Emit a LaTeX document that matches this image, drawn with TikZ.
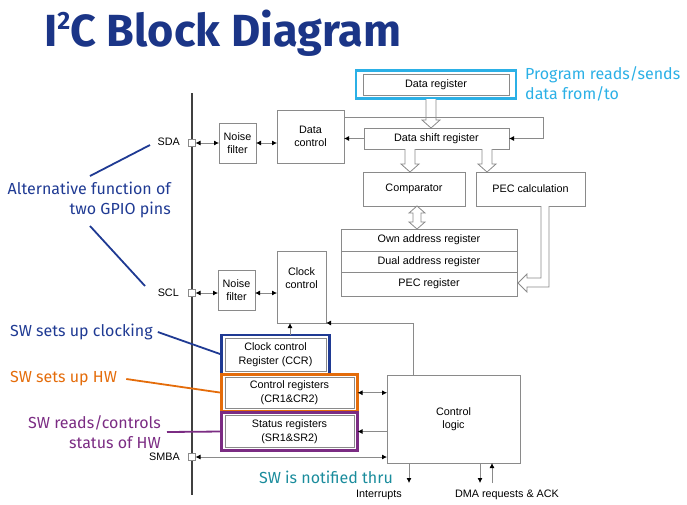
\documentclass[tikz,border=0pt]{standalone}
\usepackage{fontspec}
\setmainfont{Liberation Sans}
\newfontfamily\annfont{Fira Sans}
\usetikzlibrary{arrows.meta,fit,calc}
\definecolor{titleblue}{HTML}{1B3587}
\definecolor{annblue}{HTML}{1F3A93}
\definecolor{hlcyan}{HTML}{2BB0E6}
\definecolor{annorange}{HTML}{E46C0A}
\definecolor{annpurple}{HTML}{7B2C83}
\definecolor{annteal}{HTML}{1A8C9C}
\definecolor{boxgray}{HTML}{8A8A8A}
\definecolor{linegray}{HTML}{8A8A8A}
\newcommand\dfont{\fontsize{10.8}{13.5}\selectfont}
\newcommand\afont{\annfont\fontsize{16}{20}\selectfont}
\newcommand\hdown[3]{%
  \draw[hol] (#1-5,#2) -- (#1-5,#3-8) -- (#1-9,#3-8) -- (#1,#3) -- (#1+9,#3-8) -- (#1+5,#3-8) -- (#1+5,#2);}
\begin{document}
\begin{tikzpicture}[x=1pt,y=-1pt,
  box/.style={draw=boxgray, line width=0.8pt, fill=white, inner sep=1pt, outer sep=0pt, align=center, font=\dfont, anchor=north west},
  lbl/.style={font=\dfont, inner sep=1pt},
  pinsq/.style={draw=boxgray, fill=white, minimum size=7pt, inner sep=0pt, outer sep=0pt, line width=0.7pt},
  arr/.style={draw=linegray, line width=0.8pt, -{Latex[length=5pt,width=5pt,color=black]}},
  darr/.style={draw=linegray, line width=0.8pt, {Latex[length=5pt,width=5pt,color=black]}-{Latex[length=5pt,width=5pt,color=black]}},
  hol/.style={draw=linegray, line width=0.8pt, fill=white, line join=miter},
  hl/.style={draw=#1, line width=2.2pt, inner xsep=3.5pt, inner ysep=3pt, outer sep=0pt},
  ann/.style={font=\afont, inner sep=1pt},
  annline/.style={line width=1.8pt}]
\useasboundingbox (0,0) rectangle (687,504);

% title
\node[anchor=base west, inner sep=0pt, text=titleblue, font=\annfont\bfseries\fontsize{45}{50}\selectfont] (title) at (44,46)
  {I\raisebox{0.36em}{\fontsize{25}{25}\selectfont 2}C Block Diagram};

% bus
\coordinate (bustop) at (192,93);
\coordinate (busbot) at (192,495);
\draw[line width=1.1pt, black!75] (bustop) -- (busbot);

% pins and labels
\node[pinsq] (sdapin) at (192,143) {};
\node[pinsq] (sclpin) at (192,293) {};
\node[pinsq] (smbapin) at (192,457) {};
\node[lbl, anchor=east] (sdalbl) at (181,142) {SDA};
\node[lbl, anchor=east] (scllbl) at (180,293) {SCL};
\node[lbl, anchor=east] (smbalbl) at (181,457) {SMBA};

% boxes
\node[box, minimum width=37, minimum height=40] (nf1) at (219,123) {Noise\\filter};
\node[box, minimum width=67, minimum height=53] (dc) at (277,110) {Data\\control};
\node[box, minimum width=146, minimum height=21] (dreg) at (363,74) {Data register};
\node[box, minimum width=145, minimum height=21] (dsr) at (364,128) {Data shift register};
\node[box, minimum width=102, minimum height=34] (cmp) at (363,172) {Comparator};
\node[box, minimum width=109, minimum height=34] (pec) at (476,172) {PEC calculation};
\node[box, minimum width=176, minimum height=22] (own) at (341,229) {Own address register};
\node[box, minimum width=176, minimum height=21] (dual) at (341,251) {Dual address register};
\node[box, minimum width=176, minimum height=24] (pecr) at (341,272) {PEC register};
\node[box, minimum width=37, minimum height=40] (nf2) at (218,270) {Noise\\filter};
\node[box, minimum width=49, minimum height=72] (cc) at (277,251) {};
\node[lbl, align=center, anchor=north] (cctxt) at ([yshift=-15pt]cc.north) {Clock\\control};
\node[box, minimum width=101, minimum height=33] (ccr) at (225,338) {Clock control\\Register (CCR)};
\node[box, minimum width=129, minimum height=30.5] (crr) at (225,377.5) {Control registers\\(CR1\&CR2)};
\node[box, minimum width=129, minimum height=32] (srr) at (225,415.5) {Status registers\\(SR1\&SR2)};
\node[box, minimum width=133, minimum height=88] (cl) at (387,375) {Control\\logic};

% highlight outlines
\node[hl=hlcyan, inner xsep=7pt, inner ysep=3.5pt, fit=(dreg)] (dreghl) {};
\node[hl=annblue, fit=(ccr)] (ccrhl) {};
\node[hl=annorange, fit=(crr)] (crhl) {};
\node[hl=annpurple, fit=(srr)] (srhl) {};

% hollow arrows
\hdown{431}{99}{128}
\hdown{410}{149}{172}
\hdown{487}{149}{172}
\draw[hol] (413,214) -- (413,222) -- (409,222) -- (417,229) -- (425,222) -- (421,222) -- (421,213) -- (425,213) -- (417,206) -- (409,213) -- (413,213) -- cycle;
\draw[hol] (541,206) -- (541,278) -- (527,278) -- (527,274) -- (518,283) -- (527,292) -- (527,287) -- (549,287) -- (549,206);

% data path
\draw[darr] (sdapin.east) -- (sdapin -| nf1.west);
\draw[darr] (nf1.east |- sdapin) -- (sdapin -| dc.west);
\draw[arr] (dsr.west) -- (dsr.west -| dc.east);
\draw[arr] ([yshift=-7pt]dc.north east) -- ++(199,0) |- (dsr.east);

% clock path
\draw[darr] (sclpin.east) -- (sclpin -| nf2.west);
\draw[darr] (nf2.east |- sclpin) -- (sclpin -| cc.west);
\draw[arr] ([xshift=26pt]cl.north west) |- (cc.south east);
\coordinate (ccrup) at ([xshift=14.5pt]ccrhl.north);
\draw[arr] (ccrup) -- (ccrup |- cc.south);

% control logic
\draw[darr] (crhl.east) -- (crhl.east -| cl.west);
\draw[arr] (srhl.east -| cl.west) -- (srhl.east);
\draw[darr] (smbapin.east) -- (smbapin -| cl.west);
\coordinate (intc) at ([xshift=22pt]cl.south west);
\draw[arr] (intc) -- ++(0,20);
\coordinate (dma1) at ([xshift=93pt]cl.south west);
\draw[arr] (dma1) -- ++(0,20);
\coordinate (dma2) at ([xshift=105pt]cl.south west);
\draw[arr] ([yshift=-20pt]dma2) -- (dma2);
\node[lbl] (intl) at (379,494.5) {Interrupts};
\node[lbl] (dmal) at (507,494.5) {DMA requests \& ACK};

% annotations
\node[ann, text=hlcyan, anchor=north west, align=left] (prog) at (524,65) {Program reads/sends\\data from/to};
\node[ann, text=annblue, anchor=east, align=right] (alt) at (172,200) {Alternative function of\\two GPIO pins};
\coordinate (alt1a) at (90,176);
\coordinate (alt1b) at (150,145);
\coordinate (alt2a) at (90,226);
\coordinate (alt2b) at (145,286);
\draw[annline, annblue] (alt1a) -- (alt1b);
\draw[annline, annblue] (alt2a) -- (alt2b);
\node[ann, text=annblue, anchor=west] (swclk) at (9,332) {SW sets up clocking};
\draw[annline, annblue] ([xshift=4pt]swclk.east) -- (ccrhl.west);
\node[ann, text=annorange, anchor=west] (swhw) at (9,379) {SW sets up HW};
\draw[annline, annorange] ([xshift=8pt]swhw.east) -- (crhl.west);
\node[ann, text=annpurple, anchor=east, align=right] (swrd) at (162,432) {SW reads/controls\\status of HW};
\draw[annline, annpurple] ([xshift=5pt]swrd.east) -- (srhl.west);
\node[ann, text=annteal, anchor=west] (swn) at (258,477.5) {SW is notified thru};
\end{tikzpicture}
\end{document}
